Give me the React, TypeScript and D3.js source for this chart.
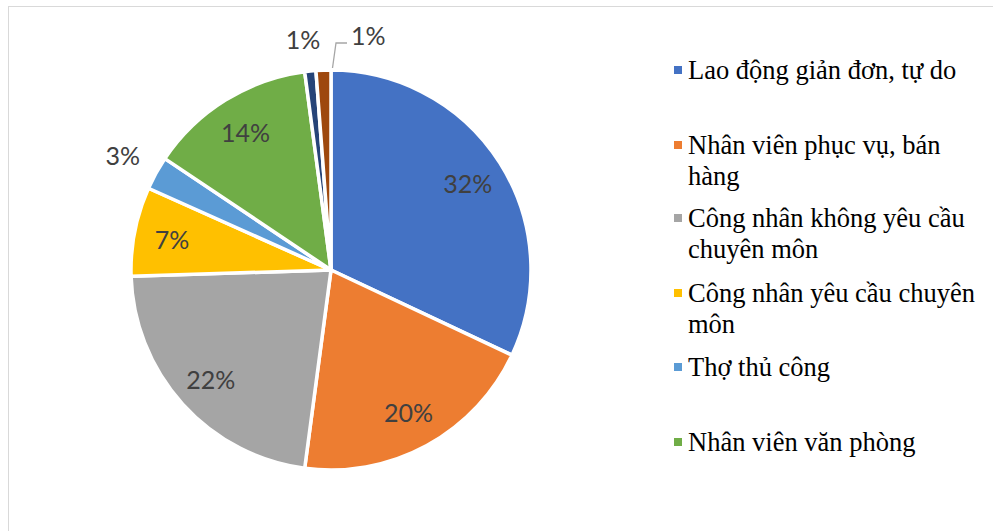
import React, { useEffect } from "react";
import * as d3 from "d3";

const categories = [
  "Lao động giản đơn, tự do",
  "Nhân viên phục vụ, bán hàng",
  "Công nhân không yêu cầu chuyên môn",
  "Công nhân yêu cầu chuyên môn",
  "Thợ thủ công",
  "Nhân viên văn phòng",
  "Khác 1",
  "Khác 2",
];
const values = [32.0, 20.1, 22.4, 7.2, 2.7, 13.5, 0.9, 1.2];
const labels = ["32%", "20%", "22%", "7%", "3%", "14%", "1%", "1%"];
const colors = ["#4472C4", "#ED7D31", "#A5A5A5", "#FFC000", "#5B9BD5", "#70AD47", "#264478", "#9E480E"];
// legend lines (wrapped as in the reference), only first 6 shown
const legendLines = [
  ["Lao động giản đơn, tự do"],
  ["Nhân viên phục vụ, bán", "hàng"],
  ["Công nhân không yêu cầu", "chuyên môn"],
  ["Công nhân yêu cầu chuyên", "môn"],
  ["Thợ thủ công"],
  ["Nhân viên văn phòng"],
];
const legendY = [70, 145, 218, 293, 367, 442];

const W = 993;
const H = 531;
const cx = 331;
const cy = 270;
const R = 200;

export default function App() {
  useEffect(() => {
    document.body.style.margin = "0";
  }, []);

  const pie = d3
    .pie<number>()
    .sort(null)
    .value((d) => d)
    .startAngle(0)
    .endAngle(2 * Math.PI);
  const arcs = pie(values);
  const arc = d3.arc<d3.PieArcDatum<number>>().innerRadius(0).outerRadius(R);
  const labelArc = d3.arc<d3.PieArcDatum<number>>().innerRadius(162).outerRadius(162);
  const outerArc = d3.arc<d3.PieArcDatum<number>>().innerRadius(238).outerRadius(238);

  const labelFont = "Lato, 'Open Sans', sans-serif";
  const fs = 25;

  return (
    <svg width={W} height={H} style={{ position: "absolute", left: 0, top: 0, background: "#fff" }}>
      <rect x={8.5} y={6.5} width={W + 10} height={H + 10} fill="#fff" stroke="#D9D9D9" strokeWidth={1} />
      <g transform={`translate(${cx},${cy})`}>
        {arcs.map((a, i) => (
          <path key={i} d={arc(a) || ""} fill={colors[i]} stroke="#fff" strokeWidth={3.5} strokeLinejoin="round" />
        ))}
        {arcs.map((a, i) => {
          if (i === 4) {
            const [x, y] = outerArc.centroid(a);
            return (
              <text key={i} x={x} y={y} textAnchor="middle" dominantBaseline="central" fontFamily={labelFont} fontSize={fs} fill="#404040">
                {labels[i]}
              </text>
            );
          }
          if (i === 6) {
            const a2 = d3.arc<d3.PieArcDatum<number>>().innerRadius(232.5).outerRadius(232.5);
            const [x, y] = a2.centroid(a);
            return (
              <text key={i} x={x - 4} y={y} textAnchor="middle" dominantBaseline="central" fontFamily={labelFont} fontSize={fs} fill="#404040">
                {labels[i]}
              </text>
            );
          }
          if (i === 7) {
            const ea = a.endAngle;
            const ex = Math.sin(ea) * (R + 2) + 1.5;
            const ey = -Math.cos(ea) * (R + 2);
            const by = -Math.cos(ea) * 227;
            const bendX = ex + 3.5;
            const hx = bendX + 11;
            return (
              <g key={i}>
                <polyline points={`${ex},${ey} ${bendX},${by} ${hx},${by}`} fill="none" stroke="#A6A6A6" strokeWidth={1.3} />
                <text x={hx + 4} y={by - 8} textAnchor="start" dominantBaseline="central" fontFamily={labelFont} fontSize={fs} fill="#404040">
                  {labels[i]}
                </text>
              </g>
            );
          }
          const [x, y] = labelArc.centroid(a);
          return (
            <text key={i} x={x} y={y} textAnchor="middle" dominantBaseline="central" fontFamily={labelFont} fontSize={fs} fill="#404040">
              {labels[i]}
            </text>
          );
        })}
      </g>
      <g>
        {legendLines.map((lines, i) => (
          <g key={i}>
            <rect x={674} y={legendY[i] - 4} width={8} height={8} fill={colors[i]} />
            {lines.map((ln, j) => (
              <text key={j} x={688} y={legendY[i] + 9 + j * 31} fontFamily="'Liberation Serif', 'Times New Roman', serif" fontSize={26.5} fill="#000">
                {ln}
              </text>
            ))}
          </g>
        ))}
      </g>
    </svg>
  );
}
